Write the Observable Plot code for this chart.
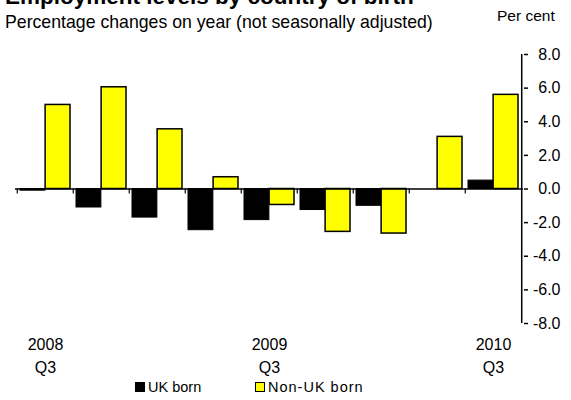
<!DOCTYPE html>
<html>
<head>
<meta charset="utf-8">
<script src="https://cdn.jsdelivr.net/npm/d3@7"></script>
<script src="https://cdn.jsdelivr.net/npm/@observablehq/plot@0.6"></script>
<style>
  html, body { margin: 0; padding: 0; background: #fff; }
  #wrap { position: relative; width: 571px; height: 400px; overflow: hidden; font-family: "Liberation Sans", Arial, sans-serif; color: #000; }
  .abs { position: absolute; white-space: nowrap; }
  #title { left: 5px; top: -14px; font-size: 22.5px; font-weight: bold; line-height: 22px; }
  #subtitle { left: 5px; top: 14px; font-size: 17.7px; line-height: 17px; }
  #unit { left: 497px; top: 8px; font-size: 15.5px; line-height: 15px; }
  #chart { left: 0; top: 36px; }
  #legend { left: 0; top: 379px; width: 571px; height: 18px; font-size: 14.5px; }
  .sw { position: absolute; top: 3px; width: 10px; height: 10px; box-sizing: border-box; }
  .lt { position: absolute; top: 0; line-height: 16px; }
</style>
</head>
<body>
<div id="wrap">
  <div id="title" class="abs">Employment levels by country of birth</div>
  <div id="subtitle" class="abs">Percentage changes on year (not seasonally adjusted)</div>
  <div id="unit" class="abs">Per cent</div>
  <div id="chart" class="abs"></div>
  <div id="legend" class="abs">
    <div class="sw" style="left:135px;background:#000;"></div>
    <div class="lt" style="left:148px;">UK born</div>
    <div class="sw" style="left:255px;background:#ffff00;border:1.5px solid #000;"></div>
    <div class="lt" style="left:268px;letter-spacing:1px;">Non-UK born</div>
  </div>
</div>
<script>
const quarters = ["2008 Q3","2008 Q4","2009 Q1","2009 Q2","2009 Q3","2009 Q4","2010 Q1","2010 Q2","2010 Q3"];
const ukBorn =    [-0.1, -1.1, -1.7, -2.45, -1.85, -1.25, -1.0, 0.0, 0.5];
const nonUkBorn = [5.0, 6.05, 3.55, 0.7, -0.95, -2.55, -2.65, 3.1, 5.6];
const yTicks = [-8, -6, -4, -2, 0, 2, 4, 6, 8];
const xTickQuarters = ["2008 Q3", "2009 Q3", "2010 Q3"];
const xTickLabels = ["2008\nQ3", "2009\nQ3", "2010\nQ3"];

const rows = quarters.map((q, i) => ({quarter: q, uk: ukBorn[i], nonUk: nonUkBorn[i]}));

const width = 571, height = 364;
const marginLeft = 15, marginRight = 48, marginTop = 18, marginBottom = 77;
const pInner = 0.11, pOuter = 0.055;
const step = (width - marginLeft - marginRight) / (quarters.length - pInner + 2 * pOuter);
const bw = step * (1 - pInner);
const half = bw / 2;

const chart = Plot.plot({
  width, height, marginLeft, marginRight, marginTop, marginBottom,
  style: {fontFamily: "'Liberation Sans', Arial, sans-serif", fontSize: "16px", color: "#000", background: "transparent"},
  x: {type: "band", domain: quarters, paddingInner: pInner, paddingOuter: pOuter, align: 0.5},
  y: {domain: [yTicks[0], yTicks[yTicks.length - 1]]},
  marks: [
    Plot.barY(rows, {x: "quarter", y: "uk", fill: "#000", stroke: "#000", strokeWidth: 1, insetRight: half}),
    Plot.barY(rows, {x: "quarter", y: "nonUk", fill: "#ffff00", stroke: "#000", strokeWidth: 1.5, insetLeft: half}),
    Plot.ruleY([0], {stroke: "#000", strokeWidth: 1.5}),
    Plot.ruleX(quarters, {x: d => d, dx: -step / 2, y1: 0, y2: -0.3, stroke: "#000", strokeWidth: 1.2}),
    Plot.ruleX([quarters[quarters.length - 1]], {x: d => d, dx: step / 2, y1: yTicks[0], y2: yTicks[yTicks.length - 1], stroke: "#000", strokeWidth: 1.5}),
    Plot.axisY({anchor: "right", ticks: yTicks, tickSize: 4, tickPadding: 33, textAnchor: "end", tickFormat: d => d.toFixed(1), label: null, stroke: "#000", strokeWidth: 1.5, fontSize: 16}),
    Plot.axisX({anchor: "bottom", ticks: xTickQuarters, tickSize: 0, tickPadding: 10, lineHeight: 1.44, tickFormat: d => xTickLabels[xTickQuarters.indexOf(d)], label: null, fontSize: 16})
  ]
});
document.getElementById("chart").appendChild(chart);
</script>
</body>
</html>
